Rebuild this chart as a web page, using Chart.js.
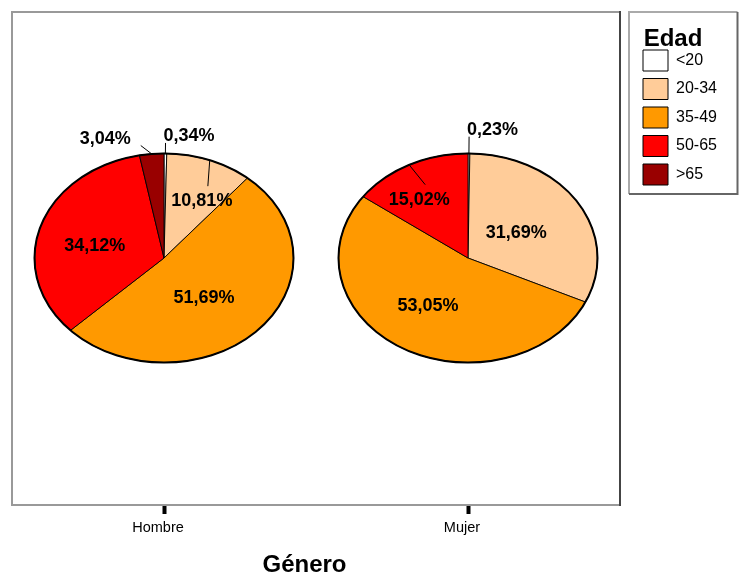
<!DOCTYPE html>
<html>
<head>
<meta charset="utf-8">
<script src="https://cdn.jsdelivr.net/npm/chart.js@4.4.1/dist/chart.umd.min.js"></script>
<style>
  html, body { margin: 0; padding: 0; background: #fff; }
  #wrap { position: relative; width: 739px; height: 580px; }
  #wrap canvas { position: absolute; }
</style>
</head>
<body>
<div id="wrap"><canvas id="main" width="739" height="580" style="left:0;top:0"></canvas></div>
<script>
// ---- data ----
const genders = ['Hombre', 'Mujer'];
const ageGroups = ['<20', '20-34', '35-49', '50-65', '>65'];
const hombrePct = [0.34, 10.81, 51.69, 34.12, 3.04];
const mujerPct = [0.23, 31.69, 53.05, 15.02, 0];
const axisTitle = 'Género';
const legendTitle = 'Edad';

// ---- styling ----
const ageColors = ['#FFFFFF', '#FFCC99', '#FF9900', '#FF0000', '#990000'];
const FONT = '"Liberation Sans", Arial, Helvetica, sans-serif';
const PIE_RX = 130;          // horizontal radius of each pie
const PIE_RY = 105;          // vertical radius (pies are drawn as ellipses)
const TILT = PIE_RY / PIE_RX;
const BOX_HALF = 150;        // half size of each pie canvas
const TITLE_SHIFT = 23;      // axis title sits a little left of the axis centre

// label placement per slice: [radius as fraction of the pie radius, angle shift in degrees]
// radius > 1 puts the label outside with a leader line
const hombreLabelPos = [[1.1, 0], [0.617, 7.6], [0.494, 8.2], [0.547, -5.6], [1.09, -4]];
const mujerLabelPos = [[1.16, 0], [0.442, -0.4], [0.551, 3.6], [0.673, -7], [0, 0]];
const hombreInnerLeader = [false, true, false, false, false];
const mujerInnerLeader = [false, false, false, true, false];

Chart.defaults.font.family = FONT;
Chart.defaults.color = '#000';

const fmtPct = v => v.toFixed(2).replace('.', ',') + '%';

// frame around the plot area, legend placement and legend box
const framePlugin = {
  id: 'frame',
  afterLayout(chart) {
    const ca = chart.chartArea;
    const lg = chart.legend;
    lg.left = ca.right + 15.5;
    lg.width = 75;                 // used to centre the legend title
    lg.right = chart.width - 2;    // clip region for the legend items
    lg.top = ca.top;
    lg.bottom = 194;
    lg.height = lg.bottom - lg.top;
    const xs = chart.scales.x;
    if (!xs._titleShifted) {
      const orig = xs.drawTitle;
      xs.drawTitle = function () {
        const l = this.left;
        this.left = l - TITLE_SHIFT;
        orig.call(this);
        this.left = l;
      };
      xs._titleShifted = true;
    }
  },
  afterDraw(chart) {
    const ctx = chart.ctx;
    const ca = chart.chartArea;
    ctx.save();
    ctx.lineWidth = 2;
    ctx.strokeStyle = '#999';
    ctx.beginPath();
    ctx.moveTo(ca.right, ca.top);
    ctx.lineTo(ca.left, ca.top);
    ctx.lineTo(ca.left, ca.bottom);
    ctx.lineTo(ca.right, ca.bottom);
    ctx.stroke();
    ctx.strokeStyle = '#444';
    ctx.beginPath();
    ctx.moveTo(ca.right, ca.top - 1);
    ctx.lineTo(ca.right, ca.bottom + 1);
    ctx.stroke();
    // legend box
    const bl = ca.right + 9, bt = ca.top, br = chart.width - 1.5, bb = 194;
    ctx.strokeStyle = '#aaa';
    ctx.beginPath();
    ctx.moveTo(br, bt);
    ctx.lineTo(bl, bt);
    ctx.lineTo(bl, bb);
    ctx.stroke();
    ctx.strokeStyle = '#666';
    ctx.beginPath();
    ctx.moveTo(bl, bb);
    ctx.lineTo(br, bb);
    ctx.lineTo(br, bt);
    ctx.stroke();
    ctx.restore();
  }
};

const main = new Chart(document.getElementById('main'), {
  type: 'bar',
  data: { labels: genders, datasets: [] },
  options: {
    responsive: false,
    animation: false,
    events: [],
    layout: { padding: { left: 12, top: 12, right: 119, bottom: 0 } },
    scales: {
      x: {
        offset: true,
        grid: { offset: false, drawOnChartArea: false, tickLength: 9, tickWidth: 4, tickColor: '#000' },
        border: { display: false },
        ticks: { color: '#000', font: { size: 14.5 }, padding: 5, labelOffset: -6 },
        title: { display: true, text: axisTitle, color: '#000', font: { size: 24, weight: 'bold' }, padding: { top: 0, bottom: 0 } },
        afterFit(s) { s.height = 75; }
      },
      y: { display: false }
    },
    plugins: {
      legend: {
        position: 'chartArea',
        align: 'start',
        title: {
          display: true, text: legendTitle, color: '#000', position: 'center',
          font: { size: 24, weight: 'bold', lineHeight: 1 },
          padding: { top: 15.5, bottom: -9 }
        },
        labels: {
          boxWidth: 25, boxHeight: 21, padding: 7.5, color: '#000', font: { size: 16 },
          generateLabels: () => ageGroups.map((t, i) => ({
            text: t, fillStyle: ageColors[i], strokeStyle: '#000', lineWidth: 1,
            hidden: false, index: i, fontColor: '#000'
          }))
        }
      },
      tooltip: { enabled: false }
    }
  },
  plugins: [framePlugin]
});

// squashes each pie into an ellipse and writes the percentage labels
const pieLabelPlugin = {
  id: 'pieLabels',
  beforeDatasetsDraw(c) {
    const a = c.getDatasetMeta(0).data[0];
    const ctx = c.ctx;
    ctx.save();
    ctx.translate(a.x, a.y);
    ctx.scale(1, TILT);
    ctx.translate(-a.x, -a.y);
  },
  afterDatasetsDraw(c, args, opts) {
    const ctx = c.ctx;
    ctx.restore();
    const arcs = c.getDatasetMeta(0).data;
    const cx = arcs[0].x, cy = arcs[0].y, R = arcs[0].outerRadius, ry = R * TILT;
    const vals = c.data.datasets[0].data;
    const pt = (r, ang) => [cx + r * R * Math.cos(ang), cy + r * ry * Math.sin(ang)];
    ctx.save();
    ctx.strokeStyle = '#000';
    ctx.lineWidth = 2;
    ctx.beginPath();
    ctx.ellipse(cx, cy, R, ry, 0, 0, Math.PI * 2);
    ctx.stroke();
    ctx.lineWidth = 1;
    ctx.fillStyle = '#000';
    ctx.font = 'bold 18px ' + FONT;
    arcs.forEach((arc, i) => {
      if (!vals[i]) return;
      const mid = (arc.startAngle + arc.endAngle) / 2;
      const [r, dDeg] = opts.pos[i];
      const [ex, ey] = pt(1, mid);
      const [px, py] = pt(r, mid + dDeg * Math.PI / 180);
      const text = fmtPct(vals[i]);
      if (r > 1) {
        ctx.beginPath();
        ctx.moveTo(ex, ey);
        ctx.lineTo(px, py);
        ctx.stroke();
        ctx.textBaseline = 'alphabetic';
        if (px < cx - 1) {
          ctx.textAlign = 'right';
          ctx.fillText(text, px - 10, py - 2);
        } else {
          ctx.textAlign = 'left';
          ctx.fillText(text, px - 2, py - 2);
        }
      } else {
        if (opts.leader[i]) {
          ctx.beginPath();
          ctx.moveTo(ex, ey);
          ctx.lineTo(px + 6, py - 15);
          ctx.stroke();
        }
        ctx.textAlign = 'center';
        ctx.textBaseline = 'middle';
        ctx.fillText(text, px, py);
      }
    });
    ctx.restore();
  }
};

const wrap = document.getElementById('wrap');
const xs = main.scales.x;
const ca = main.chartArea;
const pies = [
  { values: hombrePct, pos: hombreLabelPos, leader: hombreInnerLeader },
  { values: mujerPct, pos: mujerLabelPos, leader: mujerInnerLeader }
];
pies.forEach((p, i) => {
  const cx = xs.getPixelForValue(i);
  const cy = (ca.top + ca.bottom) / 2 - 1;
  const cv = document.createElement('canvas');
  cv.width = cv.height = 2 * BOX_HALF;
  cv.style.left = (cx - BOX_HALF) + 'px';
  cv.style.top = (cy - BOX_HALF) + 'px';
  wrap.appendChild(cv);
  new Chart(cv, {
    type: 'pie',
    data: {
      labels: ageGroups,
      datasets: [{ data: p.values, backgroundColor: ageColors, borderColor: '#000', borderWidth: 1 }]
    },
    options: {
      responsive: false,
      animation: false,
      events: [],
      layout: { padding: BOX_HALF - PIE_RX },
      plugins: {
        legend: { display: false },
        tooltip: { enabled: false },
        pieLabels: { pos: p.pos, leader: p.leader }
      }
    },
    plugins: [pieLabelPlugin]
  });
});
</script>
</body>
</html>
